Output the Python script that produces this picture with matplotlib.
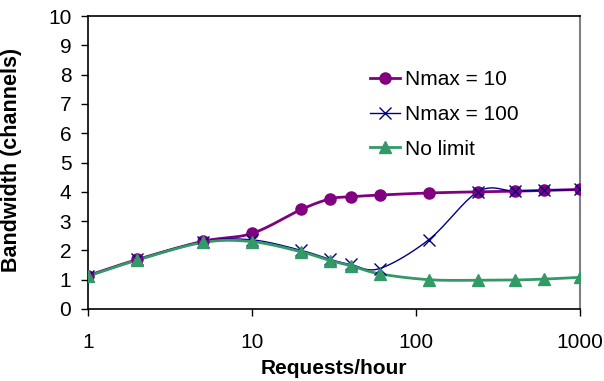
import numpy as np
import matplotlib
matplotlib.use("Agg")
import matplotlib.pyplot as plt
from matplotlib.ticker import FixedLocator, FixedFormatter, NullLocator

plt.rcParams['font.family'] = ['Liberation Sans', 'DejaVu Sans']

requests = [1, 2, 5, 10, 20, 30, 40, 60, 120, 240, 400, 600, 1000]
nmax10 = [1.14, 1.69, 2.31, 2.58, 3.40, 3.76, 3.83, 3.89, 3.96, 4.00, 4.02, 4.05, 4.08]
nmax100 = [1.14, 1.69, 2.30, 2.36, 2.00, 1.69, 1.52, 1.38, 2.37, 4.01, 4.02, 4.05, 4.08]
nolimit = [1.12, 1.67, 2.27, 2.30, 1.95, 1.65, 1.48, 1.20, 1.00, 0.98, 0.99, 1.02, 1.08]

series = [
    ("Nmax = 10", nmax10, "#800080", "o", 2.0, dict(markersize=8)),
    ("Nmax = 100", nmax100, "#000080", "x", 1.0, dict(markersize=9, markeredgewidth=1.0)),
    ("No limit", nolimit, "#339966", "^", 2.0, dict(markersize=8)),
]
xticks = [1, 10, 100, 1000]
xticklabels = ["1", "10", "100", "1000"]
yticks = list(range(0, 11))

fig = plt.figure(figsize=(6.04, 3.81), dpi=100)
W, H = 604, 381
left, right, top, bottom = 88, 580, 16, 309
ax = fig.add_axes([left / W, 1 - bottom / H, (right - left) / W, (bottom - top) / H])
ax.set_xscale('log')
ax.set_xlim(1, 1000)
ax.set_ylim(0, 10)


def smooth(xs, ys, n=30):
    pts = ax.transData.transform(np.column_stack([xs, ys]))
    p = np.vstack([pts[0], pts, pts[-1]])
    out = []
    for i in range(1, len(p) - 2):
        p0, p1, p2, p3 = p[i - 1], p[i], p[i + 1], p[i + 2]
        c1 = p1 + (p2 - p0) / 6.0
        c2 = p2 - (p3 - p1) / 6.0
        t = np.linspace(0, 1, n)[:, None]
        seg = ((1 - t) ** 3) * p1 + 3 * ((1 - t) ** 2) * t * c1 + 3 * (1 - t) * t ** 2 * c2 + t ** 3 * p2
        out.append(seg if i == 1 else seg[1:])
    out = np.vstack(out)
    d = ax.transData.inverted().transform(out)
    return d[:, 0], d[:, 1]


for label, ys, color, marker, lw, mkw in series:
    sx, sy = smooth(requests, ys)
    ax.plot(sx, sy, color=color, lw=lw, zorder=2)
    ax.plot(requests, ys, linestyle='none', marker=marker, color=color, zorder=3, **mkw)
    ax.plot([], [], color=color, lw=lw, marker=marker, label=label, **mkw)

ax.xaxis.set_major_locator(FixedLocator(xticks))
ax.xaxis.set_major_formatter(FixedFormatter(xticklabels))
ax.xaxis.set_minor_locator(NullLocator())
ax.set_yticks(yticks)

for s in ['left', 'bottom', 'top']:
    ax.spines[s].set_color('black')
    ax.spines[s].set_linewidth(1.2)
ax.spines['right'].set_color('#808080')
ax.spines['right'].set_linewidth(1.5)

ax.tick_params(axis='y', direction='out', length=5, width=1, pad=7, labelsize=15)
ax.tick_params(axis='x', direction='out', length=5, width=1, pad=12, labelsize=15)

ax.set_xlabel("Requests/hour", fontsize=15, fontweight='bold', labelpad=5)
ax.set_ylabel("Bandwidth (channels)", fontsize=15.5, fontweight='bold')
ax.yaxis.set_label_coords(22 / W, 1 - 160 / H, transform=fig.transFigure)

handles, labels = ax.get_legend_handles_labels()
leg = ax.legend(handles[-3:], labels[-3:], loc='upper left',
                bbox_to_anchor=(370 / W, 1 - 70 / H), bbox_transform=fig.transFigure,
                frameon=False, fontsize=15, handlelength=1.45, handletextpad=0.25,
                labelspacing=0.76, borderpad=0, borderaxespad=0)

fig.savefig("out.png", dpi=100)
